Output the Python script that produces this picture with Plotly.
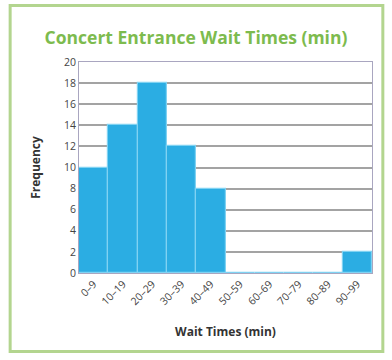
import plotly.graph_objects as go

# Wait-time bins (minutes) and number of concert-goers in each
bins = ["0–9", "10–19", "20–29", "30–39", "40–49",
        "50–59", "60–69", "70–79", "80–89", "90–99"]
frequency = [10, 14, 18, 12, 8, 0, 0, 0, 0, 2]
y_ticks = list(range(0, 21, 2))

fig = go.Figure(
    go.Bar(
        x=bins,
        y=frequency,
        marker=dict(color="#2bade3", line=dict(color="#7fd2f2", width=1.2)),
        hoverinfo="x+y",
    )
)

fig.update_layout(
    width=392,
    height=360,
    margin=dict(l=79, r=20, t=62, b=87),
    paper_bgcolor="white",
    plot_bgcolor="white",
    bargap=0,
    showlegend=False,
    font=dict(family="Open Sans", color="#333333"),
    title=dict(
        text="<b>Concert Entrance Wait Times (min)</b>",
        x=0.5,
        xanchor="center",
        y=0.895,
        yanchor="middle",
        font=dict(family="Open Sans", size=17.5, color="#7dbb4e"),
    ),
    xaxis=dict(
        tickangle=-45,
        tickfont=dict(size=10.5, color="#444444"),
        showline=True,
        linecolor="#a9a6c0",
        linewidth=1,
        mirror=True,
        title=dict(
            text="<b>Wait Times (min)</b>",
            font=dict(size=12, color="#333333"),
            standoff=20,
        ),
    ),
    yaxis=dict(
        range=[0, 20],
        tickvals=y_ticks,
        tickfont=dict(size=10.5, color="#444444"),
        showgrid=True,
        gridcolor="#a3a3a3",
        gridwidth=1.5,
        zeroline=False,
        showline=True,
        linecolor="#a9a6c0",
        linewidth=1,
        mirror=True,
        ticklen=0,
        title=dict(
            text="<b>Frequency</b>",
            font=dict(size=12, color="#333333"),
            standoff=20,
        ),
    ),
    shapes=[
        dict(
            type="rect",
            xref="paper",
            yref="paper",
            x0=-0.235,
            x1=1.037,
            y0=-0.372,
            y1=1.268,
            line=dict(color="#b3d58f", width=3),
            fillcolor="rgba(0,0,0,0)",
            layer="below",
        )
    ],
)

fig.write_html("out.html")
